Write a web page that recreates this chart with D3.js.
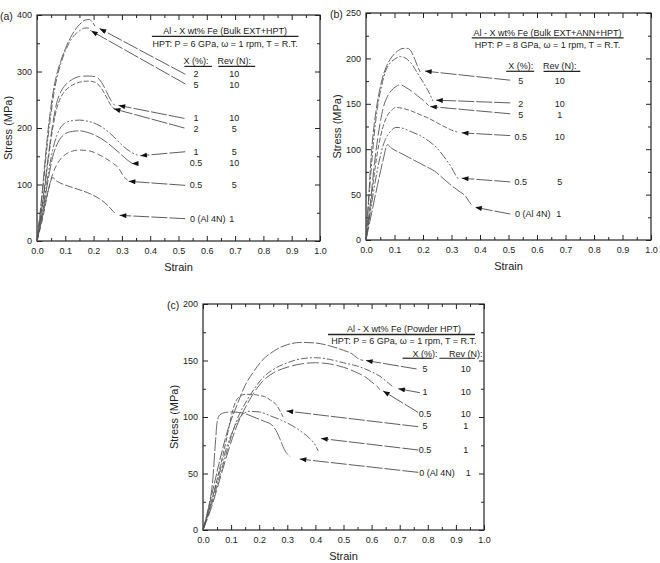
<!DOCTYPE html>
<html>
<head>
<meta charset="utf-8">
<script src="https://cdn.jsdelivr.net/npm/d3@7"></script>
<style>
  body { margin: 0; background: #fff; }
  svg { display: block; background: #fff; }
  text { font-family: "Liberation Sans", Arial, sans-serif; fill: #222; }
</style>
</head>
<body>
<svg id="chart"></svg>
<script>
// stress-strain curves, points are [strain, stress (MPa)]

// (a) Bulk EXT+HPT
const a_2_10 = [[0,0],[0.01,45],[0.02,95],[0.03,150],[0.04,200],[0.05,240],[0.06,272],[0.07,295],[0.085,320],[0.1,340],[0.125,366],[0.15,383],[0.17,391],[0.185,392],[0.195,388],[0.205,380]];
const a_5_10 = [[0,0],[0.01,42],[0.02,90],[0.03,140],[0.04,188],[0.05,228],[0.06,262],[0.07,288],[0.085,315],[0.1,336],[0.125,360],[0.15,372],[0.17,377],[0.18,377],[0.19,372]];
const a_1_10 = [[0,0],[0.02,70],[0.04,150],[0.055,205],[0.07,245],[0.085,265],[0.1,276],[0.125,286],[0.15,291],[0.18,292],[0.205,291],[0.225,283],[0.245,265],[0.26,250],[0.275,240]];
const a_2_5 = [[0,0],[0.02,65],[0.04,145],[0.055,198],[0.07,235],[0.085,255],[0.1,266],[0.125,276],[0.15,281],[0.18,283],[0.205,281],[0.225,272],[0.245,255],[0.26,241],[0.275,233]];
const a_1_5 = [[0,0],[0.02,55],[0.04,120],[0.055,160],[0.07,187],[0.085,202],[0.1,209],[0.125,213],[0.15,214],[0.18,212],[0.21,207],[0.24,198],[0.27,185],[0.3,170],[0.33,158],[0.355,152]];
const a_05_10 = [[0,0],[0.02,50],[0.04,110],[0.055,148],[0.07,170],[0.085,183],[0.1,190],[0.125,194],[0.15,195],[0.18,192],[0.21,186],[0.24,177],[0.27,165],[0.3,152],[0.32,143],[0.335,138]];
const a_05_5 = [[0,0],[0.02,40],[0.04,90],[0.055,118],[0.07,135],[0.085,146],[0.1,153],[0.125,159],[0.15,161],[0.18,160],[0.21,155],[0.24,147],[0.27,137],[0.29,128],[0.305,115],[0.32,108]];
const a_0_1 = [[0,0],[0.02,45],[0.04,90],[0.055,112],[0.07,106],[0.1,99],[0.13,94],[0.16,89],[0.19,83],[0.22,75],[0.25,63],[0.27,52],[0.28,47]];

// (b) Bulk EXT+ANN+HPT
const b_5_10 = [[0,0],[0.01,50],[0.02,100],[0.03,130],[0.04,152],[0.055,175],[0.07,190],[0.085,199],[0.1,205],[0.115,209],[0.13,211],[0.145,211],[0.16,207],[0.17,200],[0.18,192],[0.19,185]];
const b_2_10 = [[0,0],[0.01,45],[0.02,85],[0.03,120],[0.04,145],[0.055,170],[0.07,187],[0.085,195],[0.1,199],[0.12,202],[0.14,200],[0.16,194],[0.18,184],[0.2,174],[0.22,163],[0.235,153]];
const b_5_1 = [[0,0],[0.015,40],[0.03,85],[0.045,120],[0.06,145],[0.075,158],[0.09,165],[0.105,169],[0.12,171],[0.14,168],[0.16,164],[0.18,159],[0.2,154],[0.22,148]];
const b_05_10 = [[0,0],[0.015,35],[0.03,75],[0.045,105],[0.06,125],[0.075,137],[0.09,143],[0.105,146],[0.13,145],[0.16,142],[0.19,138],[0.22,134],[0.25,129],[0.28,124],[0.3,121],[0.32,119]];
const b_05_5 = [[0,0],[0.015,30],[0.03,60],[0.045,85],[0.06,104],[0.075,115],[0.09,121],[0.105,124],[0.13,123],[0.16,119],[0.19,115],[0.22,109],[0.25,101],[0.28,89],[0.3,80],[0.315,71],[0.325,67]];
const b_0_1 = [[0,0],[0.02,30],[0.04,60],[0.06,88],[0.075,105],[0.09,101],[0.12,96],[0.15,91],[0.18,86],[0.21,81],[0.24,76],[0.27,68],[0.3,60],[0.33,53],[0.35,48],[0.36,43],[0.37,39]];

// (c) Powder HPT
const c_5_10 = [[0,0],[0.03,30],[0.06,62],[0.09,90],[0.12,110],[0.15,128],[0.18,140],[0.21,150],[0.25,158],[0.3,164],[0.35,166],[0.4,165.5],[0.45,163],[0.5,159],[0.53,156],[0.55,152],[0.57,150]];
const c_1_10 = [[0,0],[0.03,22],[0.06,48],[0.09,74],[0.12,97],[0.15,112],[0.18,124],[0.21,134],[0.25,142],[0.3,148],[0.35,151.5],[0.4,152.5],[0.45,151],[0.5,148],[0.55,145],[0.6,140],[0.63,136],[0.66,130],[0.68,126]];
const c_05_10 = [[0,0],[0.03,20],[0.06,45],[0.09,70],[0.12,92],[0.15,108],[0.18,121],[0.21,131],[0.25,139],[0.3,144],[0.35,147],[0.4,148],[0.45,147],[0.5,144],[0.55,139],[0.58,135],[0.6,131],[0.62,127],[0.63,124]];
const c_5_1 = [[0,0],[0.03,25],[0.06,55],[0.085,82],[0.1,100],[0.115,113],[0.13,118],[0.15,120],[0.18,120],[0.2,119],[0.22,118],[0.24,115],[0.26,111],[0.275,105],[0.285,100]];
const c_05_1 = [[0,0],[0.03,25],[0.06,52],[0.08,70],[0.1,84],[0.12,95],[0.14,102],[0.165,105],[0.2,104.5],[0.24,101],[0.28,97],[0.32,92],[0.35,87],[0.38,81],[0.4,75],[0.41,70]];
const c_0_1 = [[0,0],[0.02,20],[0.035,45],[0.045,80],[0.05,95],[0.06,102],[0.08,104],[0.1,104.5],[0.13,104],[0.16,102],[0.19,99],[0.22,96],[0.245,93],[0.26,88],[0.275,80],[0.29,71],[0.31,65]];

// legend rows: Fe content X (%) and number of revolutions N, same order as the curves
const seriesA = [
  { X: "2", N: "10", pts: a_2_10 }, { X: "5", N: "10", pts: a_5_10 },
  { X: "1", N: "10", pts: a_1_10 }, { X: "2", N: "5", pts: a_2_5 },
  { X: "1", N: "5", pts: a_1_5 }, { X: "0.5", N: "10", pts: a_05_10 },
  { X: "0.5", N: "5", pts: a_05_5 }, { X: "0 (Al 4N)", N: "1", pts: a_0_1 }
];
const seriesB = [
  { X: "5", N: "10", pts: b_5_10 }, { X: "2", N: "10", pts: b_2_10 },
  { X: "5", N: "1", pts: b_5_1 }, { X: "0.5", N: "10", pts: b_05_10 },
  { X: "0.5", N: "5", pts: b_05_5 }, { X: "0 (Al 4N)", N: "1", pts: b_0_1 }
];
const seriesC = [
  { X: "5", N: "10", pts: c_5_10 }, { X: "1", N: "10", pts: c_1_10 },
  { X: "0.5", N: "10", pts: c_05_10 }, { X: "5", N: "1", pts: c_5_1 },
  { X: "0.5", N: "1", pts: c_05_1 }, { X: "0 (Al 4N)", N: "1", pts: c_0_1 }
];

// where the legend rows sit (y in MPa) and where each arrow goes, in data units
const layoutA = {
  titleX: 0.665, titleY: 372, ruleY: 362, rule: [0.406, 0.924], hptY: 349,
  headY: 318, headRuleY: 309, xCol: 0.562, xRule: [0.521, 0.618], nCol: 0.697, nRule: [0.641, 0.771],
  zeroStart: 0.541, zeroN: 0.688,
  rowY: [295, 277, 218, 198, 158, 138, 100, 40],
  arrows: [[0.524,295,0.221,376],[0.524,278,0.191,372],[0.521,217,0.288,240],[0.521,200,0.271,234],
           [0.524,158,0.365,151],[0.353,137,0.335,137],[0.524,98.5,0.324,105.6],[0.524,39.5,0.292,45.4]]
};
const layoutB = {
  titleX: 0.637, titleY: 228, ruleY: 222.5, rule: [0.371, 0.904], hptY: 215,
  headY: 191.7, headRuleY: 185.8, xCol: 0.543, xRule: [0.492, 0.590], nCol: 0.680, nRule: [0.623, 0.752],
  zeroStart: 0.523, zeroN: 0.676,
  rowY: [175, 150, 138, 114, 64, 29],
  arrows: [[0.506,176,0.207,186],[0.506,151,0.246,154],[0.506,139,0.225,147],
           [0.506,115,0.336,118],[0.506,64,0.336,68],[0.506,28.6,0.383,36]]
};
const layoutC = {
  titleX: 0.715, titleY: 177.6, ruleY: 173, rule: [0.445, 0.968], hptY: 167.5,
  headY: 156, headRuleY: 152, xCol: 0.79, xRule: [0.71, 0.814], nCol: 0.935, nRule: [0.841, 0.968],
  zeroStart: 0.77, zeroN: 0.944,
  rowY: [142.5, 122, 102.4, 92, 70.8, 51],
  arrows: [[0.76,142.5,0.58,150],[0.772,121.5,0.695,125],[0.766,104,0.641,123],
           [0.766,91.4,0.297,105.3],[0.766,70.8,0.42,81],[0.766,51,0.344,62.8]]
};

const dashes = ["10,2", "7,2,2,2", "12,3", "5,2", "9,2,2,2,2,2", "14,2", "6,3", "8,2"];

class StrainPanel {
  constructor(_config, _series, _layout) {
    this.config = {
      svg: _config.svg,
      left: _config.left,
      top: _config.top,
      width: _config.width,
      height: _config.height,
      yMax: _config.yMax,
      yStep: _config.yStep,
      letter: _config.letter,
      letterX: _config.letterX,
      title: _config.title,
      hpt: _config.hpt
    }
    this.series = _series;
    this.layout = _layout;
    this.initVis();
  }

  initVis() {
    let vis = this;
    const c = vis.config;
    vis.x = d3.scaleLinear().domain([0, 1]).range([0, c.width]);
    vis.y = d3.scaleLinear().domain([0, c.yMax]).range([c.height, 0]);

    vis.g = c.svg.append('g')
      .attr('transform', `translate(${c.left},${c.top})`);

    const xMajor = d3.range(0, 1.0001, 0.1);
    const xMinor = d3.range(0.05, 1, 0.1);
    const yMajor = d3.range(0, c.yMax + 1, c.yStep);
    const yMinor = d3.range(c.yStep / 2, c.yMax, c.yStep);

    // ticks point inward on all four sides, labels only bottom and left
    const addAxis = (axis, tr) => {
      const g = vis.g.append('g').attr('transform', tr).call(axis);
      g.select('.domain').remove();
      g.selectAll('line').attr('stroke', '#222');
      g.selectAll('text').style('font-size', '9px').attr('fill', '#222')
        .style('font-family', '"Liberation Sans", Arial, sans-serif');
      return g;
    };
    addAxis(d3.axisBottom(vis.x).tickValues(xMajor).tickSize(-5).tickPadding(7).tickFormat(d3.format('.1f')), `translate(0,${c.height})`);
    addAxis(d3.axisBottom(vis.x).tickValues(xMinor).tickSize(-3).tickFormat(''), `translate(0,${c.height})`);
    addAxis(d3.axisTop(vis.x).tickValues(xMajor).tickSize(-5).tickFormat(''), 'translate(0,0)');
    addAxis(d3.axisTop(vis.x).tickValues(xMinor).tickSize(-3).tickFormat(''), 'translate(0,0)');
    addAxis(d3.axisLeft(vis.y).tickValues(yMajor).tickSize(-5).tickPadding(5).tickFormat(d3.format('d')), 'translate(0,0)');
    addAxis(d3.axisLeft(vis.y).tickValues(yMinor).tickSize(-3).tickFormat(''), 'translate(0,0)');
    addAxis(d3.axisRight(vis.y).tickValues(yMajor).tickSize(-5).tickFormat(''), `translate(${c.width},0)`);
    addAxis(d3.axisRight(vis.y).tickValues(yMinor).tickSize(-3).tickFormat(''), `translate(${c.width},0)`);

    vis.g.append('rect')
      .attr('width', c.width)
      .attr('height', c.height)
      .attr('fill', 'none')
      .attr('stroke', '#222')
      .attr('stroke-width', 1.2);

    vis.g.append('text')
      .attr('x', c.width / 2)
      .attr('y', c.height + 30)
      .attr('text-anchor', 'middle')
      .style('font-size', '11px')
      .text('Strain');
    vis.g.append('text')
      .attr('transform', `translate(-29,${c.height / 2}) rotate(-90)`)
      .attr('dy', '0.35em')
      .attr('text-anchor', 'middle')
      .style('font-size', '11px')
      .text('Stress (MPa)');
    vis.g.append('text')
      .attr('x', c.letterX)
      .attr('y', 5)
      .style('font-size', '10.5px')
      .text(c.letter);

    vis.updateVis();
  }

  updateVis() {
    let vis = this;
    const L = vis.layout;

    const line = d3.line()
      .x(d => vis.x(d[0]))
      .y(d => vis.y(d[1]))
      .curve(d3.curveMonotoneX);

    vis.g.selectAll('.curve')
      .data(vis.series)
      .enter().append('path')
      .attr('class', 'curve')
      .attr('d', d => line(d.pts))
      .attr('fill', 'none')
      .attr('stroke', '#555')
      .attr('stroke-width', 0.9)
      .attr('stroke-dasharray', (d, i) => dashes[i % dashes.length]);

    // legend block
    const txt = (x, y, s, anchor) => vis.g.append('text')
      .attr('x', vis.x(x))
      .attr('y', vis.y(y))
      .attr('dy', '0.35em')
      .attr('text-anchor', anchor || 'middle')
      .style('font-size', '9px')
      .text(s);
    const rule = (x0, x1, y, w) => vis.g.append('line')
      .attr('x1', vis.x(x0)).attr('x2', vis.x(x1))
      .attr('y1', vis.y(y)).attr('y2', vis.y(y))
      .attr('stroke', '#222')
      .attr('stroke-width', w);

    txt(L.titleX, L.titleY, vis.config.title);
    rule(L.rule[0], L.rule[1], L.ruleY, 1.3);
    txt(L.titleX, L.hptY, vis.config.hpt);
    txt(L.xCol, L.headY, 'X (%):');
    txt(L.nCol, L.headY, 'Rev (N):');
    rule(L.xRule[0], L.xRule[1], L.headRuleY, 1.2);
    rule(L.nRule[0], L.nRule[1], L.headRuleY, 1.2);

    vis.series.forEach((s, i) => {
      if (s.X.length > 3) {
        txt(L.zeroStart, L.rowY[i], s.X, 'start');
        txt(L.zeroN, L.rowY[i], s.N);
      } else {
        txt(L.xCol, L.rowY[i], s.X);
        txt(L.nCol, L.rowY[i], s.N);
      }
    });

    vis.g.selectAll('.arrow')
      .data(L.arrows)
      .enter().append('line')
      .attr('class', 'arrow')
      .attr('x1', d => vis.x(d[0]))
      .attr('y1', d => vis.y(d[1]))
      .attr('x2', d => vis.x(d[2]))
      .attr('y2', d => vis.y(d[3]))
      .attr('stroke', '#333')
      .attr('stroke-width', 0.8)
      .attr('stroke-dasharray', '16,2')
      .attr('marker-end', 'url(#head)');
  }
}

const svg = d3.select('#chart')
  .attr('width', 660)
  .attr('height', 563);

svg.append('defs').append('marker')
  .attr('id', 'head')
  .attr('markerUnits', 'userSpaceOnUse')
  .attr('viewBox', '0 0 8 6')
  .attr('refX', 8)
  .attr('refY', 3)
  .attr('markerWidth', 8)
  .attr('markerHeight', 5)
  .attr('orient', 'auto')
  .append('path')
  .attr('d', 'M0,0 L8,3 L0,6 Z')
  .attr('fill', '#111');

new StrainPanel({ svg: svg, left: 37, top: 15, width: 283, height: 226, yMax: 400, yStep: 100,
  letter: '(a)', letterX: -37, title: 'Al - X wt% Fe (Bulk EXT+HPT)',
  hpt: 'HPT: P = 6 GPa, \u03c9 = 1 rpm, T = R.T.' }, seriesA, layoutA);

new StrainPanel({ svg: svg, left: 366, top: 13, width: 285, height: 227, yMax: 250, yStep: 50,
  letter: '(b)', letterX: -36, title: 'Al - X wt% Fe (Bulk EXT+ANN+HPT)',
  hpt: 'HPT: P = 8 GPa, \u03c9 = 1 rpm, T = R.T.' }, seriesB, layoutB);

new StrainPanel({ svg: svg, left: 203, top: 304, width: 281, height: 226, yMax: 200, yStep: 50,
  letter: '(c)', letterX: -36, title: 'Al - X wt% Fe (Powder HPT)',
  hpt: 'HPT: P = 6 GPa, \u03c9 = 1 rpm, T = R.T.' }, seriesC, layoutC);
</script>
</body>
</html>
